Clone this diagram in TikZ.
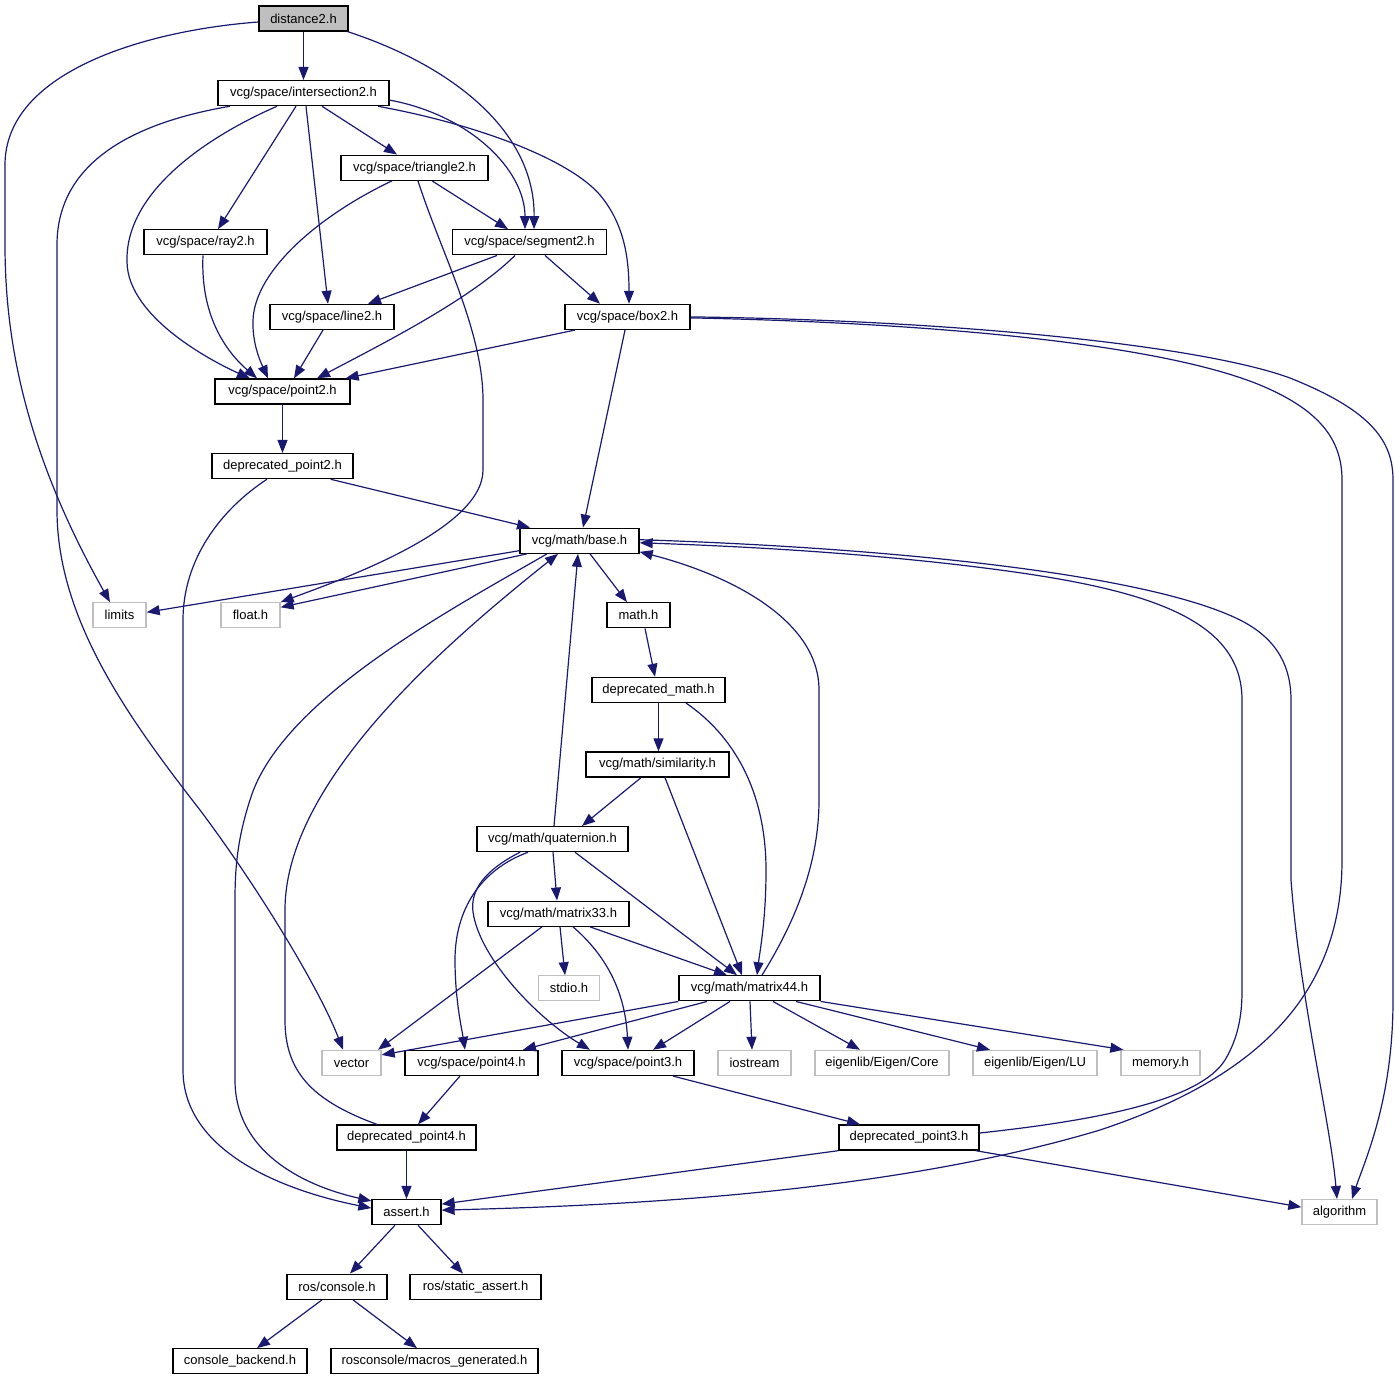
\documentclass[tikz,border=0pt]{standalone}
\usepackage{fontspec}
\setmainfont{Liberation Sans}
\usetikzlibrary{arrows.meta}
\definecolor{edgecol}{HTML}{191970}
\definecolor{greyb}{HTML}{BFBFBF}
\tikzset{
  hdr/.style={draw=black, line width=1.3pt, fill=white, minimum height=25pt, inner sep=0pt, font=\fontsize{13}{15}\selectfont},
  ext/.style={draw=greyb, line width=1.3pt, fill=white, minimum height=25pt, inner sep=0pt, font=\fontsize{13}{15}\selectfont},
  rootbox/.style={hdr, fill=greyb},
  e/.style={draw=edgecol, line width=1.2pt, -{Triangle[length=13pt,width=10pt]}}
}
\begin{document}
\begin{tikzpicture}[x=1pt,y=-1pt]
\useasboundingbox (0,0) rectangle (1396,1381);
% nodes
\node[rootbox, minimum width=89pt] (dist) at (303.5,18.5) {distance2.h};
\node[hdr, minimum width=171pt] (inter) at (303.5,93.1) {vcg/space/intersection2.h};
\node[hdr, minimum width=147pt] (tri) at (414.5,167.7) {vcg/space/triangle2.h};
\node[hdr, minimum width=123pt] (ray) at (205.5,242.3) {vcg/space/ray2.h};
\node[hdr, minimum width=154pt] (seg) at (529.5,242.3) {vcg/space/segment2.h};
\node[hdr, minimum width=124pt] (line) at (332,316.9) {vcg/space/line2.h};
\node[hdr, minimum width=125pt] (box) at (627.5,316.9) {vcg/space/box2.h};
\node[hdr, minimum width=135pt] (p2) at (282.5,391.5) {vcg/space/point2.h};
\node[hdr, minimum width=141pt] (dp2) at (282.5,466.1) {deprecated\_point2.h};
\node[hdr, minimum width=119pt] (base) at (579.5,540.7) {vcg/math/base.h};
\node[ext, minimum width=53pt] (limits) at (119.5,615.3) {limits};
\node[ext, minimum width=59pt] (float) at (250.5,615.3) {float.h};
\node[hdr, minimum width=63pt] (math) at (638.5,615.3) {math.h};
\node[hdr, minimum width=133pt] (dmath) at (658.5,689.9) {deprecated\_math.h};
\node[hdr, minimum width=143pt] (sim) at (657.5,764.5) {vcg/math/similarity.h};
\node[hdr, minimum width=151pt] (quat) at (552.5,839.1) {vcg/math/quaternion.h};
\node[hdr, minimum width=141pt] (m33) at (558.5,913.7) {vcg/math/matrix33.h};
\node[ext, minimum width=61pt] (stdio) at (569,988.3) {stdio.h};
\node[hdr, minimum width=141pt] (m44) at (749.5,988.3) {vcg/math/matrix44.h};
\node[ext, minimum width=59pt] (vector) at (351.5,1062.9) {vector};
\node[hdr, minimum width=133pt] (p4) at (471.5,1062.9) {vcg/space/point4.h};
\node[hdr, minimum width=132pt] (p3) at (628,1062.9) {vcg/space/point3.h};
\node[ext, minimum width=73pt] (iostream) at (754.5,1062.9) {iostream};
\node[ext, minimum width=134pt] (core) at (882,1062.9) {eigenlib/Eigen/Core};
\node[ext, minimum width=124pt] (lu) at (1035,1062.9) {eigenlib/Eigen/LU};
\node[ext, minimum width=79pt] (memory) at (1160.5,1062.9) {memory.h};
\node[hdr, minimum width=139pt] (dp4) at (406.5,1137.5) {deprecated\_point4.h};
\node[hdr, minimum width=140pt] (dp3) at (909,1137.5) {deprecated\_point3.h};
\node[hdr, minimum width=69pt] (assert) at (406.5,1212.1) {assert.h};
\node[ext, minimum width=75pt] (algo) at (1339.5,1212.1) {algorithm};
\node[hdr, minimum width=100pt] (console) at (337,1286.7) {ros/console.h};
\node[hdr, minimum width=131pt] (sassert) at (475.5,1286.7) {ros/static\_assert.h};
\node[hdr, minimum width=134pt] (cback) at (240,1361.3) {console\_backend.h};
\node[hdr, minimum width=207pt] (macros) at (434.5,1361.3) {rosconsole/macros\_generated.h};
% edges
\draw[e] (dist.south) -- (inter.north);
\draw[e] ([yshift=-3.5pt]dist.west) .. controls (150,30) and (5,70) .. (5,165) -- (5,245) .. controls (5,350) and (30,460) .. ([xshift=-9.5pt]limits.north);
\draw[e] ([xshift=-1pt]dist.south east) .. controls (450,65) and (535,130) .. ([xshift=4.5pt]seg.north);
\draw[e] ([xshift=18.5pt]inter.south) -- ([xshift=-17.5pt]tri.north);
\draw[e] ([xshift=-7.5pt]inter.south) -- ([xshift=12.5pt]ray.north);
\draw[e] ([yshift=-7pt]inter.east) .. controls (470,115) and (525,170) .. ([xshift=-4.5pt]seg.north);
\draw[e] ([xshift=2.5pt]inter.south) -- ([xshift=-4pt]line.north);
\draw[e] ([xshift=-26.5pt]inter.south) .. controls (200,140) and (125,195) .. (127,262) .. controls (128,320) and (220,365) .. ([xshift=-32.5pt]p2.north);
\draw[e] ([xshift=74.5pt]inter.south) .. controls (480,125) and (570,160) .. (600,195) .. controls (625,225) and (629,260) .. ([xshift=1.5pt]box.north);
\draw[e] ([xshift=-73.5pt]inter.south) .. controls (120,125) and (57,170) .. (57,245) -- (57,510) .. controls (57,620) and (130,720) .. (200,810) .. controls (260,890) and (320,990) .. ([xshift=-8.5pt]vector.north);
\draw[e] ([xshift=17.5pt]tri.south) -- ([xshift=-21.5pt]seg.north);
\draw[e] ([xshift=-22.5pt]tri.south) .. controls (320,215) and (255,270) .. (253,320) .. controls (252,345) and (262,365) .. ([xshift=-14.5pt]p2.north);
\draw[e] ([xshift=3.5pt]tri.south) .. controls (440,250) and (483,330) .. (483,400) -- (483,470) .. controls (483,530) and (340,580) .. (float.north east);
\draw[e] ([xshift=-2.5pt]ray.south) .. controls (200,320) and (230,355) .. ([xshift=-25.5pt]p2.north);
\draw[e] ([xshift=-32.5pt]seg.south) -- ([xshift=36pt]line.north);
\draw[e] ([xshift=-14.5pt]seg.south) .. controls (470,300) and (380,345) .. ([xshift=34.5pt]p2.north);
\draw[e] ([xshift=15.5pt]seg.south) -- ([xshift=-27.5pt]box.north);
\draw[e] ([xshift=-9pt]line.south) -- ([xshift=11.5pt]p2.north);
\draw[e] ([xshift=-52.5pt]box.south) -- ([xshift=-5pt]p2.north east);
\draw[e] ([xshift=-2.5pt]box.south) -- ([xshift=3.5pt]base.north);
\draw[e] ([yshift=-1pt]box.east) .. controls (900,322) and (1150,340) .. (1260,385) .. controls (1320,410) and (1342,440) .. (1342,480) -- (1342,860) .. controls (1342,1000) and (1250,1080) .. (1100,1130) .. controls (900,1190) and (650,1205) .. ([yshift=2pt]assert.east);
\draw[e] ([yshift=0pt]box.east) .. controls (950,320) and (1200,345) .. (1290,378) .. controls (1370,410) and (1393,440) .. (1393,480) -- (1393,1000) .. controls (1393,1100) and (1365,1160) .. ([xshift=12.5pt]algo.north);
\draw[e] (p2.south) -- (dp2.north);
\draw[e] ([xshift=-23pt]dp2.south east) -- ([xshift=-49.5pt]base.north);
\draw[e] ([xshift=-15.5pt]dp2.south) .. controls (220,510) and (183,560) .. (183,620) -- (183,1070) .. controls (183,1150) and (280,1190) .. ([yshift=4pt]assert.west);
\draw[e] ([yshift=-10pt]base.west) -- ([yshift=3pt]limits.east);
\draw[e] ([xshift=-52.5pt]base.south) -- ([yshift=8pt]float.east);
\draw[e] ([xshift=10.5pt]base.south) -- ([xshift=-11.5pt]math.north);
\draw[e] ([yshift=1pt]base.east) .. controls (900,548) and (1150,575) .. (1240,620) .. controls (1280,640) and (1291,670) .. (1291,700) -- (1291,880) .. controls (1300,1000) and (1330,1120) .. ([xshift=-2.5pt]algo.north);
\draw[e] ([xshift=-32.5pt]base.south) .. controls (450,610) and (280,700) .. (250,800) .. controls (237,840) and (235,870) .. (235,900) -- (235,1080) .. controls (235,1150) and (300,1185) .. ([yshift=-2pt]assert.north west);
\draw[e] ([xshift=6.5pt]math.south) -- ([xshift=-3.5pt]dmath.north);
\draw[e] (dmath.south) -- ([xshift=1pt]sim.north);
\draw[e] ([xshift=27.5pt]dmath.south) .. controls (740,740) and (766,800) .. (766,870) .. controls (766,920) and (760,950) .. ([xshift=7.5pt]m44.north);
\draw[e] ([xshift=-16.5pt]sim.south) -- ([xshift=29.5pt]quat.north);
\draw[e] ([xshift=7.5pt]sim.south) -- ([xshift=-7.5pt]m44.north);
\draw[e] ([xshift=1.5pt]quat.north) -- ([xshift=-1.5pt]base.south);
\draw[e] ([xshift=0.5pt]quat.south) -- ([xshift=-1.5pt]m33.north);
\draw[e] ([xshift=22.5pt]quat.south) -- ([xshift=-12.5pt]m44.north);
\draw[e] ([xshift=-24.5pt]quat.south) .. controls (480,870) and (455,910) .. (455,960) .. controls (455,1000) and (462,1030) .. ([xshift=-6.5pt]p4.north);
\draw[e] ([xshift=-32.5pt]quat.south) .. controls (485,870) and (470,890) .. (473,912) .. controls (480,960) and (540,1020) .. ([xshift=-38pt]p3.north);
\draw[e] ([xshift=1.5pt]m33.south) -- ([xshift=-4pt]stdio.north);
\draw[e] ([xshift=31.5pt]m33.south) -- ([xshift=-22.5pt]m44.north);
\draw[e] ([xshift=-16.5pt]m33.south) -- ([xshift=26.5pt]vector.north);
\draw[e] ([xshift=14.5pt]m33.south) .. controls (600,950) and (625,985) .. (p3.north);
\draw[e] ([xshift=12.5pt]m44.north) .. controls (790,930) and (819,870) .. (819,800) -- (819,690) .. controls (819,620) and (730,575) .. ([yshift=2pt]base.south east);
\draw[e] (m44.south west) -- ([yshift=8pt]vector.east);
\draw[e] ([xshift=-42.5pt]m44.south) -- ([xshift=51.5pt]p4.north);
\draw[e] ([xshift=-19.5pt]m44.south) -- ([xshift=25pt]p3.north);
\draw[e] ([xshift=0.5pt]m44.south) -- ([xshift=-2.5pt]iostream.north);
\draw[e] ([xshift=23.5pt]m44.south) -- ([xshift=-22pt]core.north);
\draw[e] ([xshift=46.5pt]m44.south) -- ([xshift=-45pt]lu.north);
\draw[e] (m44.south east) -- ([xshift=3pt]memory.north west);
\draw[e] ([xshift=-11.5pt]p4.south) -- ([xshift=11.5pt]dp4.north);
\draw[e] ([xshift=45pt]p3.south) -- ([xshift=-49pt]dp3.north);
\draw[e] ([xshift=-29.5pt]dp4.north) .. controls (310,1100) and (285,1070) .. (285,1020) -- (285,910) .. controls (285,780) and (450,640) .. ([xshift=-21.5pt]base.south);
\draw[e] (dp4.south) -- (assert.north);
\draw[e] ([yshift=4.5pt]dp3.east) .. controls (1100,1120) and (1200,1100) .. (1225,1060) .. controls (1240,1035) and (1242,1010) .. (1242,990) -- (1242,700) .. controls (1242,620) and (1150,590) .. (1000,570) .. controls (850,550) and (700,545) .. ([yshift=-2pt]base.east);
\draw[e] (dp3.south west) -- ([yshift=8pt]assert.east);
\draw[e] ([xshift=-4pt]dp3.south east) -- ([yshift=5pt]algo.west);
\draw[e] ([xshift=-11.5pt]assert.south) -- ([xshift=13pt]console.north);
\draw[e] ([xshift=11.5pt]assert.south) -- ([xshift=-12.5pt]sassert.north);
\draw[e] ([xshift=-15pt]console.south) -- ([xshift=17pt]cback.north);
\draw[e] ([xshift=16pt]console.south) -- ([xshift=-17.5pt]macros.north);
\end{tikzpicture}
\end{document}
